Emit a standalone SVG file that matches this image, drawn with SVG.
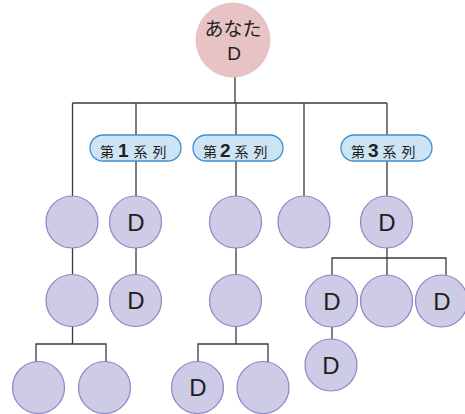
<svg xmlns="http://www.w3.org/2000/svg" width="465" height="414" viewBox="0 0 465 414">
<style>
.ln{stroke:#3a3a3a;stroke-width:1.3;fill:none}
.c{fill:#cdcbe5;stroke:#8a85c6;stroke-width:1.2}
.root{fill:#e8c3c6}
.pill{fill:#cde4f5;stroke:#3d8fce;stroke-width:1.3}
.d{font-family:"Liberation Sans","Noto Sans CJK JP",sans-serif;font-size:24px;fill:#231f20;text-anchor:middle}
.jp{font-family:"Noto Sans CJK JP",sans-serif;fill:#231f20}
.num{font-family:"Liberation Sans",sans-serif;font-weight:bold;fill:#231f20}
.rd{font-family:"Liberation Sans",sans-serif;font-size:19px}
</style>
<rect width="465" height="414" fill="#fff"/>
<g id="connectors" class="ln">
<line x1="235" y1="77" x2="235" y2="103"/>
<line x1="72.5" y1="103" x2="387" y2="103"/>
<line x1="72.5" y1="103" x2="72.5" y2="196"/>
<line x1="136" y1="103" x2="136" y2="196"/>
<line x1="236" y1="103" x2="236" y2="196"/>
<line x1="304" y1="103" x2="304" y2="196"/>
<line x1="387" y1="103" x2="387" y2="196"/>
<line x1="72.5" y1="248" x2="72.5" y2="275"/>
<line x1="136" y1="248" x2="136" y2="275"/>
<line x1="236" y1="248" x2="236" y2="275"/>
<line x1="72.5" y1="326" x2="72.5" y2="344"/>
<path d="M36 362V344H106V362"/>
<line x1="236" y1="326" x2="236" y2="344"/>
<path d="M198 362V344H268V362"/>
<line x1="387" y1="248" x2="387" y2="258"/>
<path d="M332 275V258H446V275"/>
<line x1="387" y1="258" x2="387" y2="275"/>
<line x1="332" y1="326" x2="332" y2="339"/>
</g>
<g id="root"><circle class="root" cx="233" cy="40" r="37.5"/>
<text class="jp" text-anchor="middle" font-size="19"><tspan x="233" y="36">あなた</tspan><tspan class="rd" x="234" y="59.5">D</tspan></text></g>
<g id="label1"><rect class="pill" x="90" y="135" width="91" height="26" rx="13"/>
<text x="100" y="157"><tspan class="jp" font-size="14">第</tspan><tspan class="num" font-size="19" dx="4">1</tspan><tspan class="jp" font-size="14" dx="5" letter-spacing="5">系列</tspan></text></g>
<g id="label2"><rect class="pill" x="193" y="135" width="90" height="26" rx="13"/>
<text x="203" y="157"><tspan class="jp" font-size="14">第</tspan><tspan class="num" font-size="19" dx="3">2</tspan><tspan class="jp" font-size="14" dx="4" letter-spacing="5">系列</tspan></text></g>
<g id="label3"><rect class="pill" x="341" y="135" width="91" height="26" rx="13"/>
<text x="351" y="157"><tspan class="jp" font-size="14">第</tspan><tspan class="num" font-size="19" dx="3">3</tspan><tspan class="jp" font-size="14" dx="4" letter-spacing="5">系列</tspan></text></g>
<g id="n1"><circle class="c" cx="72" cy="222" r="26"/></g>
<g id="n2"><circle class="c" cx="135.5" cy="222" r="26"/><text class="d" x="136" y="231">D</text></g>
<g id="n3"><circle class="c" cx="235.5" cy="222" r="26"/></g>
<g id="n4"><circle class="c" cx="304" cy="222" r="26"/></g>
<g id="n5"><circle class="c" cx="386.5" cy="222" r="26"/><text class="d" x="387" y="231">D</text></g>
<g id="n6"><circle class="c" cx="72" cy="300.5" r="26"/></g>
<g id="n7"><circle class="c" cx="135.5" cy="300.5" r="26"/><text class="d" x="136" y="309">D</text></g>
<g id="n8"><circle class="c" cx="235.5" cy="300.5" r="26"/></g>
<g id="n9"><circle class="c" cx="331.5" cy="301" r="26"/><text class="d" x="332" y="310">D</text></g>
<g id="n10"><circle class="c" cx="386.5" cy="301" r="26"/></g>
<g id="n11"><circle class="c" cx="441.5" cy="301" r="26"/><text class="d" x="442" y="310">D</text></g>
<g id="n12"><circle class="c" cx="38.5" cy="387.5" r="26"/></g>
<g id="n13"><circle class="c" cx="104.5" cy="387.5" r="26"/></g>
<g id="n14"><circle class="c" cx="197.5" cy="387.5" r="26"/><text class="d" x="198" y="396">D</text></g>
<g id="n15"><circle class="c" cx="263" cy="387.5" r="26"/></g>
<g id="n16"><circle class="c" cx="331" cy="365" r="26"/><text class="d" x="331" y="374">D</text></g>
</svg>
